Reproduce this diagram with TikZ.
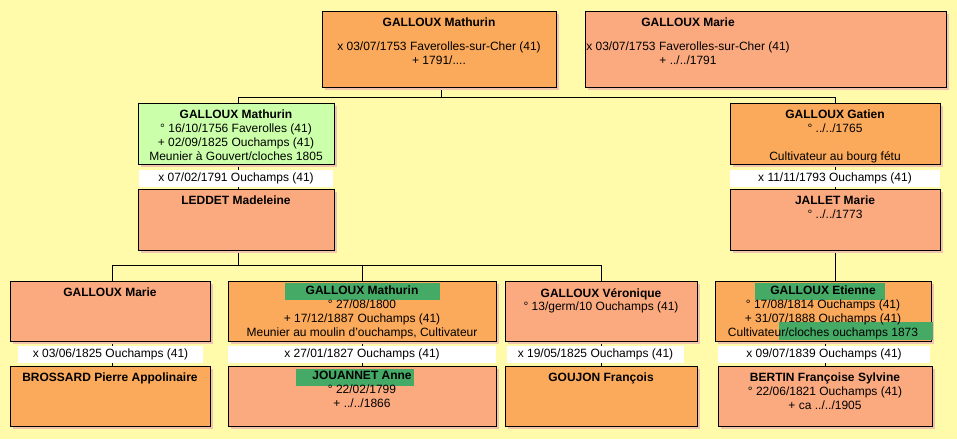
\documentclass[tikz,border=0pt]{standalone}
\usepackage{fontspec}
\setmainfont{Liberation Sans}
\begin{document}
\begin{tikzpicture}[x=1pt,y=-1pt,
  txt/.style={anchor=north,align=center,inner sep=0pt,font=\fontsize{12}{13.8}\selectfont},
  lbl/.style={fill=white,inner sep=0pt,font=\fontsize{12}{14}\selectfont},
  ln/.style={draw=black,line width=0.8pt}]
\definecolor{bg}{HTML}{FFFBAA}
\definecolor{ora}{HTML}{FBA95A}
\definecolor{sal}{HTML}{FBAA80}
\definecolor{grn}{HTML}{CCFFAA}
\definecolor{hl}{HTML}{44AA66}
\definecolor{shd}{HTML}{E8A0B0}
\fill[bg] (0,0) rectangle (957,439);
\useasboundingbox (0,0) rectangle (957,439);
\newcommand\pb[7]{%
  \fill[shd!60!bg] (#2+3,#3+3) rectangle (#4+3,#5+3);
  \node[draw=black,fill=#6,line width=0.8pt,inner sep=0pt,minimum width=#4-#2,minimum height=#5-#3] (#1) at ({(#2+#4)/2},{(#3+#5)/2}) {};
  \node[txt] (#1t) at ({(#2+#4)/2},#3+7) {#7};}
\newcommand\ml[6]{\node[lbl,minimum width=#4-#2,minimum height=#5-#3] (#1) at ({(#2+#4)/2},{(#3+#5)/2}) {#6};}
% connectors
\coordinate (t1) at (441,87); \coordinate (t2) at (441,97);
\coordinate (hl1) at (238,97); \coordinate (hr1) at (835,97);
\draw[ln] (t1) -- (t2) (hl1) -- (hr1);
\draw[ln] (hl1) -- (238,103) (hr1) -- (835,103);
\draw[ln] (238,250) -- (238,265) (112,265) -- (601,265);
\draw[ln] (112,265) -- (112,281) (362,265) -- (362,281) (601,265) -- (601,281);
\draw[ln] (835,250) -- (835,281);
\draw[ln] (238,164) -- (238,189) (835,164) -- (835,189);
\draw[ln] (112,341) -- (112,366) (362,341) -- (362,366) (601,341) -- (601,366) (825,341) -- (825,366);
\pb{A}{322}{11}{556}{87}{ora}{\textbf{GALLOUX Mathurin}\\[10pt] x 03/07/1753 Faverolles-sur-Cher (41)\\+ 1791/....}
\pb{B}{585}{11}{946}{87}{sal}{}
\node[txt] (Bt) at (688,18) {\textbf{GALLOUX Marie}\\[10pt] x 03/07/1753 Faverolles-sur-Cher (41)\\+ ../../1791};
\pb{C}{138}{103}{334}{164}{grn}{\textbf{GALLOUX Mathurin}\\° 16/10/1756 Faverolles (41)\\+ 02/09/1825 Ouchamps (41)\\Meunier à Gouvert/cloches 1805}
\ml{mC}{139}{170}{333}{187}{x 07/02/1791 Ouchamps (41)}
\pb{D}{138}{189}{334}{250}{sal}{\textbf{LEDDET Madeleine}}
\pb{E}{730}{103}{940}{164}{ora}{\textbf{GALLOUX Gatien}\\° ../../1765\\[14pt]Cultivateur au bourg fétu}
\ml{mE}{730}{170}{940}{187}{x 11/11/1793 Ouchamps (41)}
\pb{F}{730}{189}{940}{250}{sal}{\textbf{JALLET Marie}\\° ../../1773}
\pb{G}{10}{281}{210}{341}{sal}{\textbf{GALLOUX Marie}}
\ml{mG}{18}{346}{203}{363}{x 03/06/1825 Ouchamps (41)}
\pb{K}{10}{366}{210}{426}{ora}{\textbf{BROSSARD Pierre Appolinaire}}
\pb{H}{228}{281}{496}{341}{ora}{}
\fill[hl] (285,283) rectangle (440,300);
\node[txt] (Ht) at (362,286) {\textbf{GALLOUX Mathurin}\\° 27/08/1800\\+ 17/12/1887 Ouchamps (41)\\Meunier au moulin d'ouchamps, Cultivateur};
\ml{mH}{228}{346}{496}{363}{x 27/01/1827 Ouchamps (41)}
\pb{L}{228}{366}{496}{426}{sal}{}
\fill[hl] (296,369) rectangle (414,386);
\node[txt] (Lt) at (362,371) {\textbf{JOUANNET Anne}\\° 22/02/1799\\+ ../../1866};
\pb{I}{505}{281}{697}{341}{sal}{\textbf{GALLOUX Véronique}\\° 13/germ/10 Ouchamps (41)}
\ml{mI}{507}{346}{684}{363}{x 19/05/1825 Ouchamps (41)}
\pb{M}{505}{366}{697}{426}{ora}{\textbf{GOUJON François}}
\pb{J}{715}{281}{931}{341}{ora}{}
\fill[hl] (755,283) rectangle (885,300);
\fill[hl] (779,322) rectangle (933,340);
\node[txt] (Jt) at (823,286) {\textbf{GALLOUX Etienne}\\° 17/08/1814 Ouchamps (41)\\+ 31/07/1888 Ouchamps (41)\\Cultivateur/cloches ouchamps 1873};
\ml{mJ}{718}{346}{930}{363}{x 09/07/1839 Ouchamps (41)}
\pb{N}{718}{366}{932}{426}{sal}{\textbf{BERTIN Françoise Sylvine}\\° 22/06/1821 Ouchamps (41)\\+ ca ../../1905}
\end{tikzpicture}
\end{document}
